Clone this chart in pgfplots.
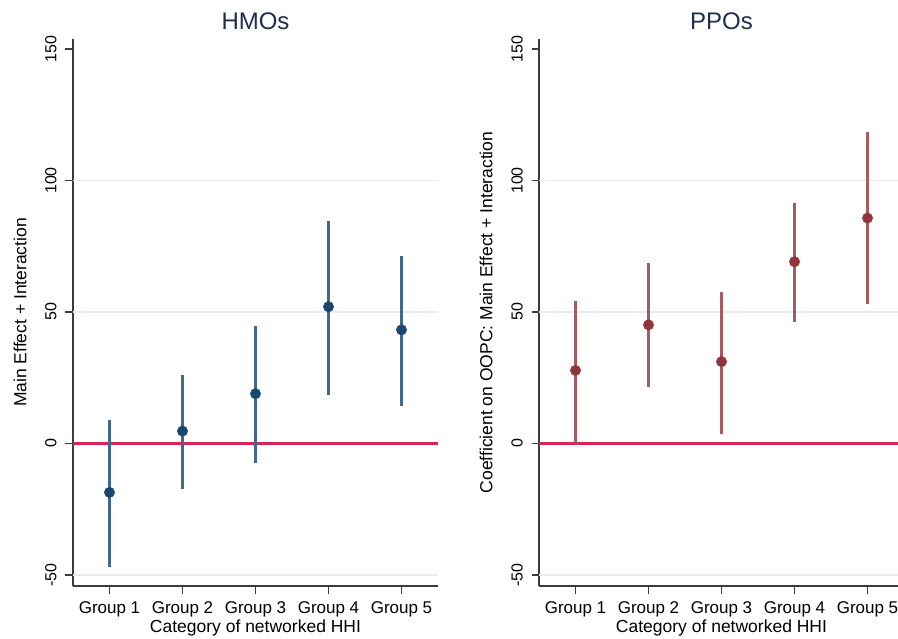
\documentclass[border=0pt]{standalone}
\usepackage{pgfplots}
\pgfplotsset{compat=1.18}
\usepackage{pgfplotstable}
\usepackage{fontspec}
\setmainfont{Liberation Sans}
\definecolor{navy}{RGB}{26,71,111}
\definecolor{maroon}{RGB}{144,53,59}
\definecolor{zeroline}{RGB}{215,38,83}
\definecolor{gridc}{RGB}{228,237,240}
\definecolor{ttl}{RGB}{30,45,80}
\definecolor{axc}{RGB}{60,60,60}

\pgfplotstableread{
x y lo hi
1 -18.6 -46.9 8.9
2 4.7 -17.2 26.0
3 18.9 -7.3 44.5
4 52.0 18.6 84.5
5 43.2 14.4 71.1
}\hmo
\pgfplotstableread{
x y lo hi
1 27.8 0.0 54.1
2 45.1 21.3 68.7
3 31.1 3.5 57.5
4 69.1 46.3 91.3
5 85.7 52.9 118.3
}\ppo

\pgfplotsset{
  panel/.style={
    scale only axis, width=365pt, height=547pt,
    xmin=0.5, xmax=5.5, ymin=-54.2, ymax=153.8,
    axis x line=bottom, axis y line=left,
    axis line style={axc, line width=1.3pt, -},
    xtick={1,2,3,4,5},
    xticklabels={Group 1,Group 2,Group 3,Group 4,Group 5},
    ytick={-50,0,50,100,150},
    /pgf/number format/assume math mode=true,
    tick align=outside, major tick length=7.5pt,
    tick style={axc, line width=1.3pt},
    yticklabel style={rotate=90, anchor=base, font=\fontsize{16}{16}\selectfont},
    yticklabel shift=9pt,
    xticklabel style={anchor=base, yshift=-20pt, font=\fontsize{17}{17}\selectfont},
    extra y ticks={-50,50,100}, extra y tick labels={},
    extra y tick style={grid=major, major tick length=0pt, grid style={gridc, line width=1.2pt}},
    title style={at={(axis description cs:0.5,1)}, anchor=base, yshift=3pt,
                 font=\fontsize{24}{24}\selectfont, text=ttl},
    xlabel={Category of networked HHI},
    xlabel style={at={(axis description cs:0.5,0)}, anchor=base, yshift=-46.7pt,
                  font=\fontsize{17.5}{17.5}\selectfont},
    ylabel style={at={([xshift=-53pt]axis description cs:0,0.5)}, anchor=center, rotate=0,
                  font=\fontsize{17.5}{17.5}\selectfont},
    clip=false,
  }
}

\begin{document}
\begin{tikzpicture}
\begin{axis}[panel, at={(73pt,52pt)}, anchor=south west,
  title={HMOs}, ylabel={Main Effect + Interaction}]
\addplot[draw=zeroline, line width=2.2pt, forget plot] coordinates {(0.5,0) (5.5,0)};
\addplot[only marks, mark=*, mark size=5.2pt, color=navy,
  mark options={fill=navy, draw=navy},
  error bars/.cd, y dir=both, y explicit, error mark=none,
  error bar style={draw=navy!82!white, line width=2.2pt}]
  table[x=x, y=y, y error plus expr=\thisrow{hi}-\thisrow{y},
        y error minus expr=\thisrow{y}-\thisrow{lo}] {\hmo};
\end{axis}
\begin{axis}[panel, at={(539pt,52pt)}, anchor=south west,
  title={PPOs}, ylabel={Coefficient on OOPC: Main Effect + Interaction}]
\addplot[draw=zeroline, line width=2.2pt, forget plot] coordinates {(0.5,0) (5.5,0)};
\addplot[only marks, mark=*, mark size=5.2pt, color=maroon,
  mark options={fill=maroon, draw=maroon},
  error bars/.cd, y dir=both, y explicit, error mark=none,
  error bar style={draw=maroon!80!white, line width=2.2pt}]
  table[x=x, y=y, y error plus expr=\thisrow{hi}-\thisrow{y},
        y error minus expr=\thisrow{y}-\thisrow{lo}] {\ppo};
\end{axis}
\pgfresetboundingbox
\useasboundingbox (0,0) rectangle (898pt,638pt);
\end{tikzpicture}
\end{document}
